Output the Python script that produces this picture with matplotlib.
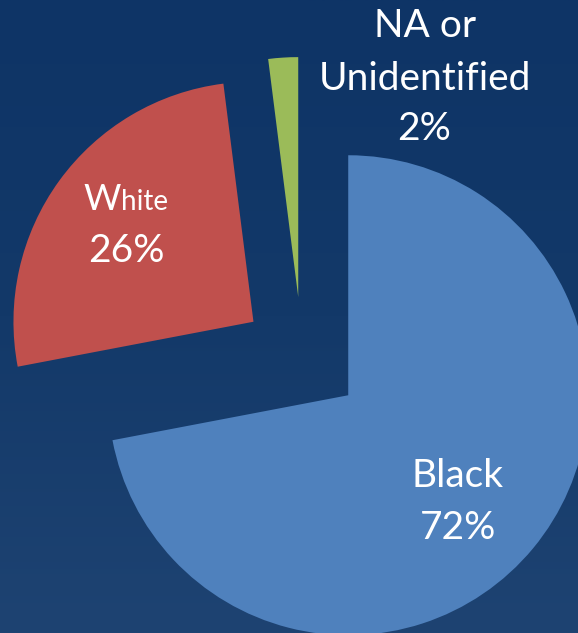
import numpy as np
import matplotlib.pyplot as plt
from matplotlib.colors import LinearSegmentedColormap

# data
categories = ['Black', 'White', 'NA or\nUnidentified']
shares = [72, 26, 2]
colors = ['#4F81BD', '#C0504D', '#9BBB59']
explode = [0.25, 0.25, 0.25]

plt.rcParams['font.family'] = ['Lato', 'DejaVu Sans']

W, H = 578, 633
fig = plt.figure(figsize=(W / 100, H / 100), dpi=100)
ax = fig.add_axes([0, 0, 1, 1])

# pie centre / radius in pixels (the pie runs off the right and bottom edge)
cx, cy, rad = 302, 357, 240


def px(x, y):
    return (x - cx) / rad, (cy - y) / rad


wedges, _ = ax.pie(shares, colors=colors, explode=explode, startangle=90,
                   counterclock=False, radius=1,
                   wedgeprops=dict(linewidth=0))

x0, y0 = px(0, H)
x1, y1 = px(W, 0)

# dark blue background, a bit lighter toward the bottom
bg = LinearSegmentedColormap.from_list('bg', ['#0E3466', '#133969', '#1E4372'])
grad = np.linspace(0, 1, 256).reshape(-1, 1)
ax.imshow(grad, cmap=bg, extent=[x0, x1, y0, y1], origin='upper',
          aspect='auto', zorder=0)

ax.set_xlim(x0, x1)
ax.set_ylim(y0, y1)
ax.set_aspect('auto')
ax.axis('off')

fs = 28
txt = dict(color='white', fontsize=fs, ha='center', va='baseline', zorder=5)

# Black
ax.text(*px(458, 487), 'Black', **txt)
ax.text(*px(458, 539), f'{shares[0]}%', **txt)

# White, drawn as a big W plus small "hite"
w_txt = ax.text(*px(83, 210), 'W', color='white', fontsize=26,
                ha='left', va='baseline', zorder=5)
fig.canvas.draw()
bb = w_txt.get_window_extent()
hx = bb.x1 + 1
ax.text(*px(hx, 210), 'hite', color='white', fontsize=20,
        ha='left', va='baseline', zorder=5)
ax.text(*px(126, 262), f'{shares[1]}%', **txt)

# NA or Unidentified
lines = categories[2].split('\n')
ax.text(*px(425, 37), lines[0], **txt)
ax.text(*px(425, 90), lines[1], **txt)
ax.text(*px(424, 140), f'{shares[2]}%', **txt)

fig.savefig('out.png', dpi=100)
